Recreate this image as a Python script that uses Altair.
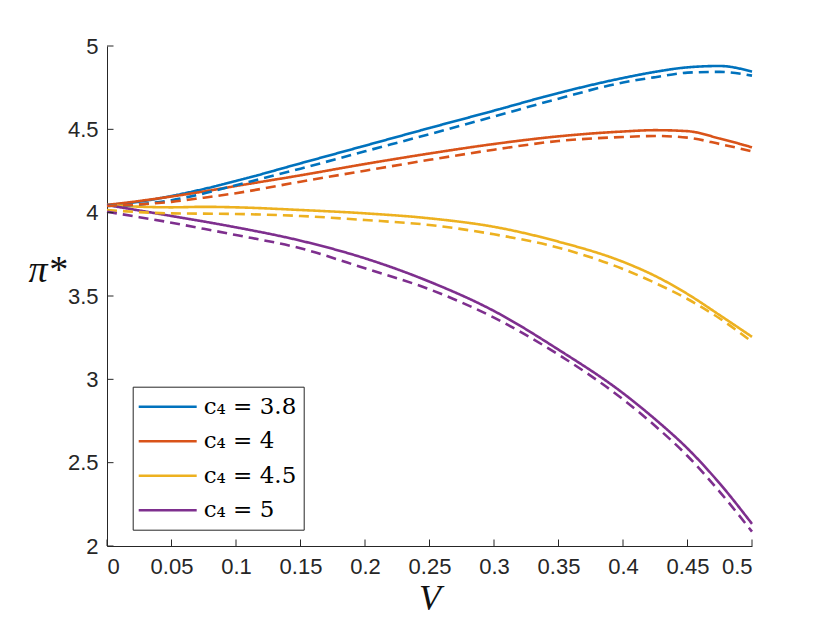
import altair as alt
import pandas as pd

# ---- data ----
V = [0, 0.025, 0.05, 0.075, 0.1, 0.15, 0.2, 0.25, 0.3, 0.35, 0.4, 0.425, 0.45, 0.475, 0.5]

labels = ["c₄ = 3.8", "c₄ = 4", "c₄ = 4.5", "c₄ = 5"]
colors = ["#0072BD", "#D95319", "#EDB120", "#7E2F8E"]

solid_38 = [4.046, 4.066, 4.100, 4.142, 4.190, 4.296, 4.402, 4.508, 4.612, 4.718, 4.808, 4.845, 4.872, 4.880, 4.846]
dash_38 = [4.040, 4.050, 4.075, 4.115, 4.165, 4.264, 4.368, 4.471, 4.577, 4.684, 4.781, 4.813, 4.840, 4.845, 4.822]
solid_4 = [4.046, 4.070, 4.097, 4.127, 4.160, 4.224, 4.292, 4.355, 4.412, 4.458, 4.487, 4.495, 4.489, 4.445, 4.392]
dash_4 = [4.040, 4.050, 4.065, 4.090, 4.117, 4.186, 4.252, 4.317, 4.378, 4.430, 4.454, 4.460, 4.450, 4.412, 4.368]
solid_45 = [4.046, 4.036, 4.032, 4.035, 4.032, 4.016, 3.996, 3.966, 3.915, 3.826, 3.705, 3.620, 3.512, 3.385, 3.255]
dash_45 = [4.016, 4.003, 3.996, 3.994, 3.992, 3.980, 3.956, 3.926, 3.870, 3.790, 3.662, 3.578, 3.482, 3.365, 3.225]
solid_5 = [4.046, 4.013, 3.980, 3.947, 3.912, 3.832, 3.726, 3.586, 3.410, 3.178, 2.917, 2.760, 2.585, 2.375, 2.133]
dash_5 = [4.006, 3.973, 3.940, 3.903, 3.866, 3.786, 3.666, 3.540, 3.370, 3.148, 2.880, 2.720, 2.540, 2.325, 2.086]

x_ticks = [0, 0.05, 0.1, 0.15, 0.2, 0.25, 0.3, 0.35, 0.4, 0.45, 0.5]
y_ticks = [2, 2.5, 3, 3.5, 4, 4.5, 5]

series = [
    (labels[0], solid_38, dash_38),
    (labels[1], solid_4, dash_4),
    (labels[2], solid_45, dash_45),
    (labels[3], solid_5, dash_5),
]

rows = []
for lab, s, d in series:
    for v, val in zip(V, s):
        rows.append({"series": lab, "kind": "solid", "V": v, "pi": val, "grp": f"{lab}-solid"})
for lab, s, d in series:
    for v, val in zip(V, d):
        rows.append({"series": lab, "kind": "dashed", "V": v, "pi": val, "grp": f"{lab}-dashed"})
df = pd.DataFrame(rows)

W, H = 645, 500
AX = "#262626"

xscale = alt.Scale(domain=[0, 0.5], nice=False, zero=False)
yscale = alt.Scale(domain=[2, 5], nice=False, zero=False)

xaxis = alt.Axis(values=x_ticks, format=".2~f", title="V", ticks=False,
                 labelFont="Liberation Sans", labelFontSize=22, labelColor=AX,
                 labelPadding=10, titleY=52, titleBaseline="middle",
                 titleFont="Liberation Serif", titleFontStyle="italic",
                 titleFontSize=36, titleFontWeight="normal", titleColor="#111")
yaxis = alt.Axis(values=y_ticks, format=".1~f", title="π*", ticks=False,
                 labelFont="Liberation Sans", labelFontSize=22, labelColor=AX,
                 labelPadding=9, titleAngle=0, titleX=-60, titleY=224,
                 titleAlign="center", titleBaseline="middle",
                 titleFont="Liberation Serif", titleFontStyle="italic",
                 titleFontSize=38, titleFontWeight="normal", titleColor="#111")

lines = alt.Chart(df).mark_line(strokeWidth=2.6, interpolate="monotone").encode(
    x=alt.X("V:Q", scale=xscale, axis=xaxis),
    y=alt.Y("pi:Q", scale=yscale, axis=yaxis),
    color=alt.Color("series:N", scale=alt.Scale(domain=labels, range=colors),
                    legend=alt.Legend(title=None, orient="none", legendX=25.7, legendY=340.7,
                                      symbolType="M-2.5,0H2.5", symbolSize=538,
                                      symbolStrokeWidth=2.6, symbolOffset=15,
                                      labelFont="DejaVu Serif",
                                      labelFontSize=23, labelColor="#000",
                                      labelOffset=23, rowPadding=9.5, padding=7,
                                      strokeColor=AX, fillColor="white")),
    strokeDash=alt.StrokeDash("kind:N", scale=alt.Scale(domain=["solid", "dashed"],
                                                        range=[[1, 0], [10, 6]]), legend=None),
    detail="grp:N",
)

xt = pd.DataFrame({"V": x_ticks})
yt = pd.DataFrame({"pi": y_ticks})

xtick_rules = alt.Chart(xt).mark_rule(color=AX, strokeWidth=1).encode(
    x=alt.X("V:Q", scale=xscale, axis=xaxis),
    y=alt.value(H), y2=alt.value(H - 6.5),
)
ytick_rules = alt.Chart(yt).mark_rule(color=AX, strokeWidth=1).encode(
    y=alt.Y("pi:Q", scale=yscale, axis=yaxis),
    x=alt.value(0), x2=alt.value(6.5),
)

chart = alt.layer(lines, xtick_rules, ytick_rules).properties(
    width=W, height=H,
    autosize=alt.AutoSizeParams(type="none"),
    padding={"left": 99, "top": 38, "right": 60, "bottom": 75},
    background="white",
).configure_view(stroke=None).configure_axis(
    grid=False, domainColor=AX, domainWidth=1,
)

chart.save("out.html", embed_options={"renderer": "svg", "actions": False})
